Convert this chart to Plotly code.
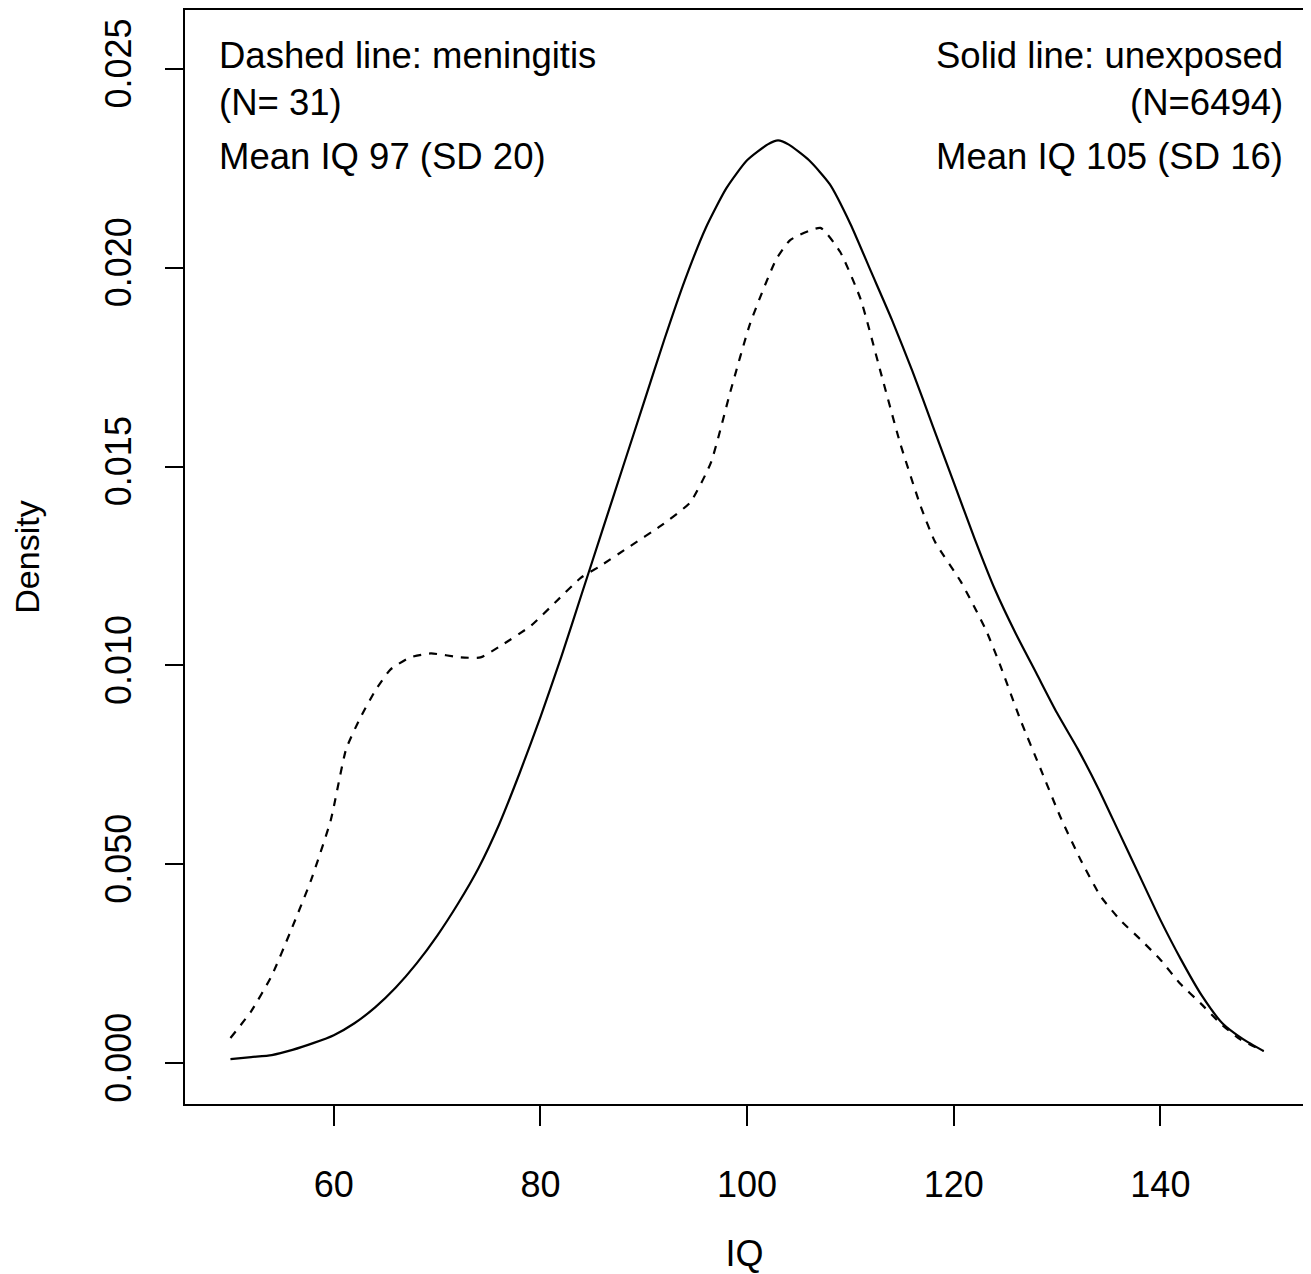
import plotly.graph_objects as go

# ---- data ----
iq_solid = [50, 52, 54, 56, 58, 60, 62, 64, 66, 68, 70, 72, 74, 76, 78, 80, 82, 84, 86, 88,
            90, 92, 94, 96, 98, 100, 102, 103, 104, 106, 108, 110, 112, 114, 116, 118, 120,
            122, 124, 126, 128, 130, 132, 134, 136, 138, 140, 142, 144, 146, 148, 150]
dens_unexposed = [0.0001, 0.00015, 0.0002, 0.00033, 0.0005, 0.0007, 0.001, 0.0014, 0.0019,
                  0.0025, 0.0032, 0.0040, 0.0049, 0.0060, 0.0073, 0.0087, 0.0102, 0.0118,
                  0.0134, 0.0150, 0.0166, 0.0182, 0.0197, 0.0210, 0.0220, 0.0227, 0.0231,
                  0.0232, 0.0231, 0.0227, 0.0221, 0.0211, 0.0199, 0.0187, 0.0174, 0.0160,
                  0.0146, 0.0132, 0.0119, 0.0108, 0.0098, 0.0088, 0.0079, 0.0069, 0.0058,
                  0.0047, 0.0036, 0.0026, 0.0017, 0.0010, 0.0006, 0.0003]

iq_dashed = [50, 52, 54, 55.8, 57.8, 59.7, 61.2, 62.6, 64.1, 65.5, 67.4, 69.4, 72.3, 74.2,
             76.2, 79.1, 81.5, 83.9, 85.8, 88.7, 91.6, 94.5, 96.5, 98.4, 100.3, 102.8, 104.2,
             107.1, 109, 111, 112.9, 114.8, 116.8, 118.2, 120.7, 123.1, 124.5, 126.5, 128.4,
             130.3, 132.3, 134.2, 136.1, 138.1, 140, 141.9, 143.9, 145.8, 147.7, 150]
dens_meningitis = [0.00063, 0.0013, 0.0022, 0.0033, 0.0046, 0.0061, 0.0079, 0.0087, 0.0094,
                   0.0099, 0.0102, 0.0103, 0.0102, 0.0102, 0.0105, 0.0110, 0.0116, 0.0122,
                   0.0125, 0.0130, 0.0135, 0.0141, 0.0151, 0.0169, 0.0186, 0.0202, 0.0207,
                   0.0210, 0.0204, 0.0192, 0.0174, 0.0156, 0.0140, 0.0131, 0.0121, 0.0109,
                   0.0100, 0.0086, 0.0074, 0.0062, 0.0051, 0.0042, 0.0036, 0.0031, 0.0026,
                   0.0020, 0.0015, 0.0010, 0.0006, 0.0003]

x_ticks = [60, 80, 100, 120, 140]
y_ticks = [0.0, 0.005, 0.010, 0.015, 0.020, 0.025]
y_tick_labels = ["0.000", "0.050", "0.010", "0.015", "0.020", "0.025"]

left_text = ["Dashed line: meningitis", "(N= 31)", "Mean IQ 97 (SD 20)"]
right_text = ["Solid line: unexposed", "(N=6494)", "Mean IQ 105 (SD 16)"]

FONT = "Arial, Liberation Sans, sans-serif"

fig = go.Figure()
fig.add_trace(go.Scatter(x=iq_solid, y=dens_unexposed, mode="lines",
                         line=dict(color="black", width=2.2, shape="spline", smoothing=0.6),
                         hoverinfo="skip"))
fig.add_trace(go.Scatter(x=iq_dashed, y=dens_meningitis, mode="lines",
                         line=dict(color="black", width=2.2, dash="8px,8px",
                                   shape="spline", smoothing=0.5),
                         hoverinfo="skip"))

# page body has an 8px default margin; compensate in figure size/margins
OFF = 8
W, H = 1311 - OFF, 1274 - OFF
L, R, T, B = 185 - OFF, 7, 8 - OFF, 170
pw, ph = W - L - R, H - T - B
line_py = [54, 101, 155]   # target pixel rows in the page
for txt, py in zip(left_text, line_py):
    fig.add_annotation(text=txt, xref="paper", yref="paper",
                       x=(217 - 185) / pw, y=(1104 - py) / ph,
                       xanchor="left", yanchor="middle", showarrow=False,
                       font=dict(family=FONT, size=36.5, color="black"))
for txt, py in zip(right_text, line_py):
    fig.add_annotation(text=txt, xref="paper", yref="paper",
                       x=(1285 - 185) / pw, y=(1104 - py) / ph,
                       xanchor="right", yanchor="middle", align="right", showarrow=False,
                       font=dict(family=FONT, size=36.5, color="black"))

fig.update_layout(
    width=W, height=H,
    margin=dict(l=L, r=R, t=T, b=B),
    paper_bgcolor="white", plot_bgcolor="white",
    showlegend=False,
    font=dict(family=FONT, color="black"),
)
fig.update_xaxes(
    range=[45.6, 153.9], tickvals=x_ticks, ticks="outside", ticklen=20, tickwidth=2,
    tickcolor="black", showgrid=False, zeroline=False,
    showline=True, linecolor="black", linewidth=2, mirror=True,
    tickfont=dict(family=FONT, size=36, color="black"), ticklabelstandoff=28,
    title=dict(text="IQ", font=dict(family=FONT, size=36, color="black"), standoff=40),
)
fig.update_yaxes(
    range=[-0.00103, 0.02648], tickvals=y_ticks, ticktext=y_tick_labels,
    ticks="outside", ticklen=18, tickwidth=2, tickcolor="black", tickangle=-90,
    showgrid=False, zeroline=False,
    showline=True, linecolor="black", linewidth=2, mirror=True,
    tickfont=dict(family=FONT, size=36, color="black"), ticklabelstandoff=20,
    title=dict(text="Density", font=dict(family=FONT, size=34, color="black"), standoff=48),
)

fig.write_html("out.html")
